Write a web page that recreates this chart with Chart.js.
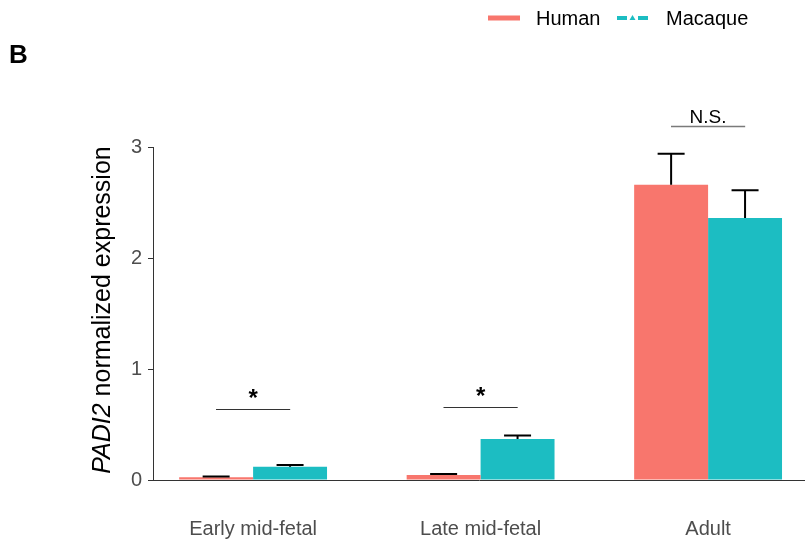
<!DOCTYPE html>
<html>
<head>
<meta charset="utf-8">
<script src="https://cdn.jsdelivr.net/npm/chart.js@4.4.1/dist/chart.umd.min.js"></script>
<style>
  html, body { margin: 0; padding: 0; background: #ffffff; }
  #wrap { width: 805px; height: 540px; position: relative; }
</style>
</head>
<body>
<div id="wrap"><canvas id="chart" width="805" height="540"></canvas></div>
<script>
// Developmental stages along the x axis
const stages = ['Early mid-fetal', 'Late mid-fetal', 'Adult'];
const stagePos = [1, 2, 3];

// PADI2 normalized expression (mean) and standard error per species
const humanMean = [0.025, 0.045, 2.66];
const humanErr = [0.006, 0.010, 0.28];
const macaqueMean = [0.12, 0.37, 2.36];
const macaqueErr = [0.015, 0.030, 0.25];

// Significance brackets for each stage
const sigLabels = ['*', '*', 'N.S.'];
const sigLevels = [0.64, 0.66, 3.19];

const yTicks = [0, 1, 2, 3];

const FONT = '"Liberation Sans", Arial, Helvetica, sans-serif';
const HUMAN_COLOR = '#F8766D';
const MACAQUE_COLOR = '#1CBDC2';

// Upper error bars (T shape) drawn on top of each bar
const errorBars = {
  id: 'errorBars',
  afterDatasetsDraw(chart) {
    const ctx = chart.ctx;
    const y = chart.scales.y;
    const errs = [humanErr, macaqueErr];
    ctx.save();
    ctx.strokeStyle = '#000000';
    ctx.lineWidth = 2;
    chart.data.datasets.forEach((ds, di) => {
      const meta = chart.getDatasetMeta(di);
      meta.data.forEach((bar, i) => {
        const v = ds.data[i].y;
        const top = y.getPixelForValue(v + errs[di][i]);
        const base = y.getPixelForValue(v);
        ctx.beginPath();
        ctx.moveTo(bar.x, base);
        ctx.lineTo(bar.x, top);
        ctx.moveTo(bar.x - 13.5, top);
        ctx.lineTo(bar.x + 13.5, top);
        ctx.stroke();
      });
    });
    ctx.restore();
  }
};

// Significance brackets, panel letter, y title and legend
const annotations = {
  id: 'annotations',
  afterDraw(chart) {
    const ctx = chart.ctx;
    const x = chart.scales.x;
    const y = chart.scales.y;
    ctx.save();

    stagePos.forEach((p, i) => {
      const left = x.getPixelForValue(p - 0.163);
      const right = x.getPixelForValue(p + 0.163);
      const ly = Math.round(y.getPixelForValue(sigLevels[i])) + 0.5;
      const ns = sigLabels[i] !== '*';
      ctx.strokeStyle = ns ? '#7a7a7a' : '#333333';
      ctx.lineWidth = ns ? 1.5 : 1;
      ctx.beginPath();
      ctx.moveTo(left, ly);
      ctx.lineTo(right, ly);
      ctx.stroke();
      ctx.fillStyle = '#000000';
      ctx.textAlign = 'center';
      ctx.textBaseline = 'alphabetic';
      if (ns) {
        ctx.font = '19px ' + FONT;
        ctx.fillText(sigLabels[i], (left + right) / 2, ly - 4);
      } else {
        ctx.font = 'bold 24px ' + FONT;
        ctx.fillText(sigLabels[i], (left + right) / 2, ly - 4);
      }
    });

    // panel letter
    ctx.fillStyle = '#000000';
    ctx.font = 'bold 26px ' + FONT;
    ctx.textAlign = 'left';
    ctx.textBaseline = 'alphabetic';
    ctx.fillText('B', 9, 63);

    // y axis title with italic gene symbol
    ctx.save();
    ctx.translate(110, 310);
    ctx.rotate(-Math.PI / 2);
    ctx.fillStyle = '#000000';
    ctx.textBaseline = 'alphabetic';
    const part1 = 'PADI2';
    const part2 = ' normalized expression';
    ctx.font = 'italic 25px ' + FONT;
    const w1 = ctx.measureText(part1).width;
    ctx.font = '25px ' + FONT;
    const w2 = ctx.measureText(part2).width;
    const start = -(w1 + w2) / 2;
    ctx.font = 'italic 25px ' + FONT;
    ctx.textAlign = 'left';
    ctx.fillText(part1, start, 0);
    ctx.font = '25px ' + FONT;
    ctx.fillText(part2, start + w1, 0);
    ctx.restore();

    // legend
    const ly = 18;
    ctx.fillStyle = HUMAN_COLOR;
    ctx.fillRect(488, ly - 2.5, 32, 5);
    ctx.fillStyle = MACAQUE_COLOR;
    ctx.fillRect(617, ly - 2, 10, 4);
    ctx.fillRect(638, ly - 2, 10, 4);
    ctx.beginPath();
    ctx.moveTo(629.5, ly + 2);
    ctx.lineTo(635.5, ly + 2);
    ctx.lineTo(632.5, ly - 3);
    ctx.closePath();
    ctx.fill();
    ctx.fillStyle = '#000000';
    ctx.font = '20px ' + FONT;
    ctx.textAlign = 'left';
    ctx.textBaseline = 'middle';
    ctx.fillText('Human', 536, ly + 1);
    ctx.fillText('Macaque', 666, ly + 1);

    ctx.restore();
  }
};

const toPoints = (vals) => vals.map((v, i) => ({ x: stagePos[i], y: v }));

new Chart(document.getElementById('chart'), {
  type: 'bar',
  data: {
    datasets: [
      { label: 'Human', data: toPoints(humanMean), backgroundColor: HUMAN_COLOR,
        categoryPercentage: 0.65, barPercentage: 1.0 },
      { label: 'Macaque', data: toPoints(macaqueMean), backgroundColor: MACAQUE_COLOR,
        categoryPercentage: 0.65, barPercentage: 1.0 }
    ]
  },
  options: {
    responsive: false,
    animation: false,
    layout: { padding: { top: 147, right: 0, left: 0, bottom: 0 } },
    plugins: { legend: { display: false }, tooltip: { enabled: false } },
    scales: {
      x: {
        type: 'linear',
        offset: false,
        min: 0.560,
        max: 3.426,
        afterBuildTicks(scale) { scale.ticks = stagePos.map(v => ({ value: v })); },
        afterFit(scale) { scale.height = 60; },
        grid: { display: false, drawTicks: false },
        border: { display: true, color: '#333333', width: 1 },
        ticks: {
          callback: (v) => stages[stagePos.indexOf(v)] || '',
          color: '#4d4d4d',
          font: { family: FONT, size: 20 },
          padding: 37,
          maxRotation: 0,
          autoSkip: false
        }
      },
      y: {
        min: 0,
        max: 3,
        afterBuildTicks(scale) { scale.ticks = yTicks.map(v => ({ value: v })); },
        afterFit(scale) { scale.width = 153; },
        grid: { drawOnChartArea: false, drawTicks: true, tickLength: 5, color: '#333333', tickColor: '#333333' },
        border: { display: true, color: '#333333', width: 1 },
        ticks: {
          color: '#4d4d4d',
          font: { family: FONT, size: 20 },
          padding: 6
        }
      }
    }
  },
  plugins: [errorBars, annotations]
});
</script>
</body>
</html>
